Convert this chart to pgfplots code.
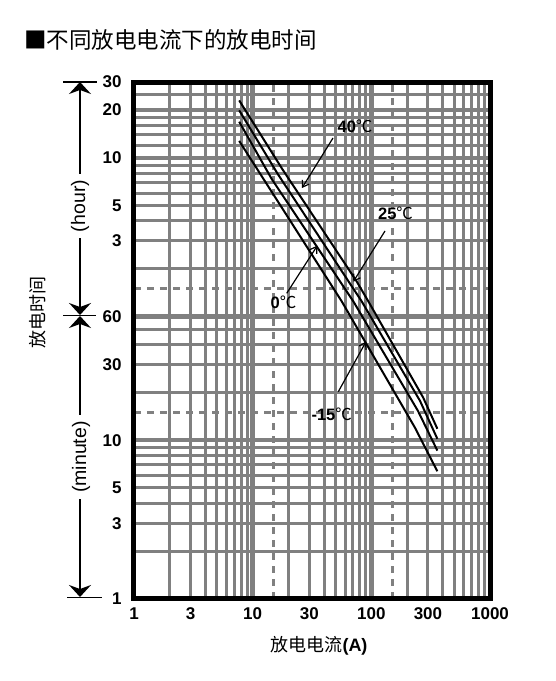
\documentclass[border=0pt]{standalone}
\usepackage{fontspec}
\setmainfont{Liberation Sans}
\newfontfamily\cjk{Noto Sans CJK SC}
\usepackage{pgfplots}
\pgfplotsset{compat=1.18}
\usetikzlibrary{arrows.meta}
\definecolor{gridgray}{RGB}{128,128,128}

\begin{document}
\begin{tikzpicture}[x=1pt,y=1pt]
\path[use as bounding box] (0,0) rectangle (556,681);
\node[anchor=west, font=\cjk\fontsize{22.5}{24}\selectfont, inner sep=0] at (24,681-40) {■不同放电电流下的放电时间};
\begin{axis}[at={(134pt,82pt)}, anchor=south west, scale only axis,
  width=356pt, height=517pt,
  xmode=log, ymode=log, xmin=1, xmax=1000, ymin=1, ymax=1800,
  axis on top,
  axis line style={line width=5pt, black},
  xtick={1,3,10,30,100,300,1000}, xticklabels={1,3,10,30,100,300,1000},
  ytick={1,3,5,10,30,60,180,300,600,1200,1800},
  yticklabels={1,3,5,10,30,60,3,5,10,20,30},
  major tick length=0pt, minor tick length=0pt,
  /pgf/number format/assume math mode=true,
  tick label style={font=\bfseries\fontsize{17}{17}\selectfont},
  yticklabel style={xshift=-9pt},
  xticklabel style={yshift=-5pt},
]
% vertical grid
\pgfplotsinvokeforeach{2,3,4,5,6,7,8,9,20,30,40,50,60,70,80,90,200,300,400,500,600,700,800,900}{
  \draw[gridgray, line width=3pt] (axis cs:#1,1) -- (axis cs:#1,1800);
}
\pgfplotsinvokeforeach{10,100}{
  \draw[gridgray, line width=4.5pt] (axis cs:#1,1) -- (axis cs:#1,1800);
}
\pgfplotsinvokeforeach{15,150}{
  \draw[gridgray, line width=3pt, dash pattern=on 7pt off 6pt] (axis cs:#1,1) -- (axis cs:#1,1800);
}
% horizontal grid
\pgfplotsinvokeforeach{2,3,4,5,6,7,8,9,20,30,40,50,120,180,240,300,360,420,480,540,720,840,960,1080,1500}{
  \draw[gridgray, line width=3pt] (axis cs:1,#1) -- (axis cs:1000,#1);
}
\pgfplotsinvokeforeach{10,60,600,1200}{
  \draw[gridgray, line width=4.5pt] (axis cs:1,#1) -- (axis cs:1000,#1);
}
\pgfplotsinvokeforeach{15,90}{
  \draw[gridgray, line width=3pt, dash pattern=on 7pt off 6pt] (axis cs:1,#1) -- (axis cs:1000,#1);
}
% curves
\addplot[black, line width=2pt] coordinates {(7.7,1378) (17.9,505) (75.2,100) (94.2,75) (273,18.6) (360,11.8)};
\addplot[black, line width=2pt] coordinates {(7.7,1193) (16.4,470) (82.8,75) (257,17.7) (360,10.2)};
\addplot[black, line width=2pt] coordinates {(7.7,1012) (14.5,440) (70.4,75) (247,15.3) (360,8.6)};
\addplot[black, line width=2pt] coordinates {(7.7,766) (56.2,75) (233,12.0) (360,6.37)};
\end{axis}
% curve labels
\tikzset{lab/.style={font=\fontsize{16.5}{17}\selectfont, inner sep=0}}
\node[lab] at (355,681-126) {\textbf{40}{\cjk ℃}};
\node[lab] at (395.5,681-213) {\textbf{25}{\cjk ℃}};
\node[lab] at (283.5,681-302) {\textbf{0}{\cjk ℃}};
\node[lab] at (331.7,681-414) {\textbf{-15}{\cjk ℃}};
\tikzset{larr/.style={line width=1.2pt, -{Straight Barb[length=6pt,width=8pt]}}}
\draw[larr] (333,681-138) -- (302,681-188);
\draw[larr] (385,681-231) -- (353.3,681-281.7);
\draw[larr] (286.7,681-293.3) -- (317.3,681-245.7);
\draw[larr] (338.3,681-391.7) -- (366,681-341.7);
% axis labels
\node[rotate=90, font=\cjk\fontsize{18}{18}\selectfont, inner sep=0] at (38,681-313) {放电时间};
\node[font=\fontsize{18}{18}\selectfont, inner sep=0] at (319,681-646) {{\cjk 放电电流}\textbf{(A)}};
% left annotation
\tikzset{big/.style={line width=1.3pt, -{Stealth[length=12pt,width=22pt,inset=4pt]}}}
\draw[big] (80,681-200) -- (80,681-82);
\draw[big] (80,681-200) -- (80,681-315);
\draw[big] (80,681-457) -- (80,681-316);
\draw[big] (80,681-457) -- (80,681-597);
\draw[line width=1.3pt] (63,681-82) -- (97,681-82);
\draw[line width=1.3pt] (63,681-315.5) -- (96,681-315.5);
\draw[line width=1.3pt] (67,681-597.5) -- (102,681-597.5);
\node[rotate=90, fill=white, inner sep=6pt, font=\fontsize{19.5}{20}\selectfont] at (80,681-206) {(hour)};
\node[rotate=90, fill=white, inner sep=6pt, font=\fontsize{19.5}{20}\selectfont] at (81,681-457) {(minute)};
\end{tikzpicture}
\end{document}
